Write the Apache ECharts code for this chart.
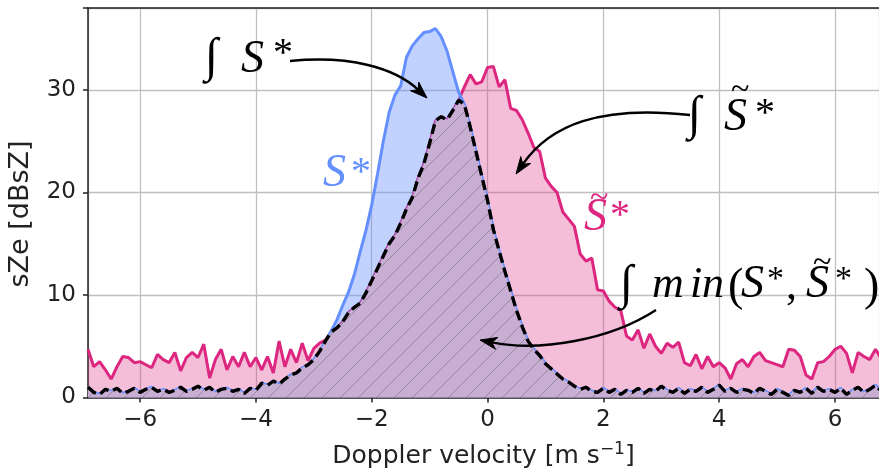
<!DOCTYPE html>
<html>
<head>
<meta charset="utf-8">
<script src="https://cdn.jsdelivr.net/npm/echarts@6/dist/echarts.min.js"></script>
<style>
html,body{margin:0;padding:0;background:#fff;}
#chart{width:879px;height:474px;}
</style>
</head>
<body>
<div id="chart"></div>
<script>
// Doppler velocity samples [m s^-1]
const velocity = [
-6.9,-6.8,-6.7,-6.6,-6.5,-6.4,-6.3,-6.2,-6.1,-6.0,
-5.9,-5.8,-5.7,-5.6,-5.5,-5.4,-5.3,-5.2,-5.1,-5.0,
-4.9,-4.8,-4.7,-4.6,-4.5,-4.4,-4.3,-4.2,-4.1,-4.0,
-3.9,-3.8,-3.7,-3.6,-3.5,-3.4,-3.3,-3.2,-3.1,-3.0,
-2.9,-2.8,-2.7,-2.6,-2.5,-2.4,-2.3,-2.2,-2.1,-2.0,
-1.9,-1.8,-1.7,-1.6,-1.5,-1.4,-1.3,-1.2,-1.1,-1.0,
-0.9,-0.8,-0.7,-0.6,-0.5,-0.4,-0.3,-0.2,-0.1,0.0,
0.1,0.2,0.3,0.4,0.5,0.6,0.7,0.8,0.9,1.0,
1.1,1.2,1.3,1.4,1.5,1.6,1.7,1.8,1.9,2.0,
2.1,2.2,2.3,2.4,2.5,2.6,2.7,2.8,2.9,3.0,
3.1,3.2,3.3,3.4,3.5,3.6,3.7,3.8,3.9,4.0,
4.1,4.2,4.3,4.4,4.5,4.6,4.7,4.8,4.9,5.0,
5.1,5.2,5.3,5.4,5.5,5.6,5.7,5.8,5.9,6.0,
6.1,6.2,6.3,6.4,6.5,6.6,6.7,6.8,6.9
];
// S* (blue) [dBsZ]
const sStar = [
1.0,0.5,0.3,0.8,0.6,0.9,0.4,0.6,0.9,0.5,
0.8,1.0,0.6,0.8,0.5,0.7,1.0,0.6,0.8,1.1,
0.7,1.0,0.5,0.8,0.9,0.6,0.8,0.4,0.9,0.7,
1.4,1.2,1.6,1.3,1.8,2.2,2.4,2.9,3.2,3.7,
4.5,5.5,6.5,7.6,9.0,10.3,12.0,14.2,16.3,18.8,
21.8,25.0,27.8,29.5,30.4,33.2,34.3,35.0,35.6,35.7,
36.0,35.2,33.8,31.8,29.8,28.6,26.4,24.0,21.6,19.2,
16.4,14.3,12.3,10.4,8.5,6.9,5.5,4.7,4.1,3.3,
2.8,2.3,1.8,1.5,1.1,0.8,1.0,0.6,0.5,0.9,
0.5,0.8,0.3,0.7,0.5,0.9,0.4,0.8,0.6,1.1,
0.7,0.5,0.9,0.4,0.8,0.6,1.0,0.5,0.8,1.2,
0.6,0.9,0.5,0.8,0.7,0.4,0.9,0.6,0.3,0.8,
0.5,0.2,0.7,0.5,0.9,0.4,1.0,0.6,0.8,0.5,
0.9,0.3,0.7,1.0,0.5,0.8,1.2,0.6,0.9
];
// S~* (pink) [dBsZ]
const sTildeStar = [
4.7,3.0,3.5,2.7,1.8,3.0,4.0,3.9,3.4,3.5,
3.2,2.9,4.2,3.7,3.4,4.4,2.6,3.9,4.4,3.9,
5.2,1.9,3.7,4.7,2.7,4.0,3.0,4.4,3.0,3.9,
2.7,4.0,2.4,5.5,3.0,4.7,3.4,5.3,3.6,4.8,
5.3,5.6,6.4,6.8,7.4,8.3,8.8,9.2,10.2,11.4,
12.6,13.8,15.0,15.8,17.0,18.4,19.5,21.4,22.8,24.8,
27.0,27.4,27.1,28.0,29.0,30.3,31.5,30.6,30.8,32.2,
32.3,30.3,31.0,28.2,28.0,27.1,25.8,24.4,24.0,21.4,
20.6,20.0,18.1,17.4,16.7,14.0,13.3,13.6,10.5,10.4,
9.4,8.8,8.5,6.0,5.6,6.6,4.8,6.2,5.0,4.3,
5.3,4.9,5.4,3.4,3.1,4.2,2.8,4.0,3.0,3.4,
2.9,1.8,3.3,3.7,3.0,4.0,4.4,3.6,3.4,3.2,
3.0,4.7,4.6,4.0,2.2,1.8,3.4,3.5,4.0,4.7,
5.0,4.3,2.4,4.4,4.0,3.7,4.7,3.8,4.2
];
const xTicks = [-6,-4,-2,0,2,4,6];
const yTicks = [0,10,20,30];

const BLUE = '#648FFF', PINK = '#DC267F';
const blueData = velocity.map((v,i)=>[v, sStar[i]]);
const pinkData = velocity.map((v,i)=>[v, sTildeStar[i]]);
const minData = velocity.map((v,i)=>[v, Math.min(sStar[i], sTildeStar[i])]);

// hatch pattern for overlap area
const hatch = document.createElement('canvas');
hatch.width = 18; hatch.height = 18;
(function(){
  const c = hatch.getContext('2d');
  c.fillStyle = '#c9aed4';
  c.fillRect(0,0,18,18);
  c.strokeStyle = 'rgba(125,115,130,0.65)';
  c.lineWidth = 1.0;
  c.beginPath();
  c.moveTo(-2,20); c.lineTo(20,-2);
  c.moveTo(-20,20); c.lineTo(2,-2);
  c.moveTo(16,20); c.lineTo(38,-2);
  c.stroke();
})();

const chart = echarts.init(document.getElementById('chart'), null, {renderer:'canvas'});

function fmtMinus(v){ return String(v).replace('-', '\u2212'); }

const FS = 23, NS = 25;
const option = {
  animation: false,
  grid: {left: 88, right: 0, top: 8, bottom: 76, containLabel: false},
  xAxis: [{
    type: 'value', min: -6.9, max: 6.76, splitNumber: 7, minInterval: 2, maxInterval: 2,
    axisLine: {show: true, onZero: false, lineStyle: {color: '#222', width: 1.5}},
    axisTick: {show: true, length: 5, lineStyle: {color: '#222', width: 1.5}},
    axisLabel: {show: true, margin: 11, fontSize: FS, color: '#222', fontFamily: 'DejaVu Sans',
      showMinLabel: false, showMaxLabel: false,
      formatter: v => xTicks.indexOf(v) >= 0 ? fmtMinus(v) : ''},
    splitLine: {show: true, lineStyle: {color: '#c0c0c0', width: 1.3}},
    name: '{a|Doppler velocity [m s}{b|\u22121}{a|]}', nameLocation: 'middle', nameGap: 44,
    nameTextStyle: {fontSize: NS, color: '#222', fontFamily: 'DejaVu Sans',
      rich: {a: {fontSize: NS, color: '#222', fontFamily: 'DejaVu Sans', lineHeight: 30},
             b: {fontSize: 17, color: '#222', fontFamily: 'DejaVu Sans', verticalAlign: 'top', lineHeight: 19}}}
  },{
    type: 'value', position: 'top', min: -6.9, max: 6.76,
    axisLine: {show: true, onZero: false, lineStyle: {color: '#222', width: 1.5}},
    axisTick: {show: false}, axisLabel: {show: false}, splitLine: {show: false}
  }],
  yAxis: {
    type: 'value', min: 0, max: 38, interval: 10,
    axisLine: {show: true, onZero: false, lineStyle: {color: '#222', width: 1.5}},
    axisTick: {show: true, length: 5, lineStyle: {color: '#222', width: 1.5}},
    axisLabel: {margin: 12, fontSize: FS, color: '#222', fontFamily: 'DejaVu Sans',
      formatter: v => yTicks.indexOf(v) >= 0 ? String(v) : ''},
    splitLine: {show: true, lineStyle: {color: '#c0c0c0', width: 1.3}}
  },
  series: [
    {type: 'line', data: pinkData, showSymbol: false, clip: true,
     lineStyle: {color: PINK, width: 3}, areaStyle: {color: PINK, opacity: 0.3}, z: 2},
    {type: 'line', data: blueData, showSymbol: false, clip: true,
     lineStyle: {color: BLUE, width: 3}, areaStyle: {color: BLUE, opacity: 0.4}, z: 3},
    {type: 'line', data: minData, showSymbol: false, clip: true,
     lineStyle: {color: '#000', width: 3.4, type: [10, 5]},
     areaStyle: {color: {image: hatch, repeat: 'repeat'}, opacity: 1}, z: 4}
  ]
};
chart.setOption(option);

// ---- annotations (LaTeX-like labels + curved arrows) ----
const SERIF = '"Liberation Serif", "DejaVu Serif", serif';
function glyph(text, x, base, size, italic, color){
  return {type: 'text', z: 100, silent: true,
    style: {text: text, x: x, y: base - 0.3375*size, align: 'left', verticalAlign: 'middle',
      font: (italic ? 'italic ' : '') + size + 'px ' + SERIF, fill: color}};
}
function arrow(p0, c1, c2, p1){
  const dx = p1[0]-c2[0], dy = p1[1]-c2[1];
  const L = Math.hypot(dx,dy); const ux = dx/L, uy = dy/L; const nx = -uy, ny = ux;
  const len = 17, hw = 6, notch = 5;
  const bx = p1[0]-ux*len, by = p1[1]-uy*len;
  const mx = p1[0]-ux*(len-notch), my = p1[1]-uy*(len-notch);
  return [
    {type: 'bezierCurve', z: 100, silent: true,
     shape: {x1: p0[0], y1: p0[1], cpx1: c1[0], cpy1: c1[1], cpx2: c2[0], cpy2: c2[1], x2: mx, y2: my},
     style: {stroke: '#000', lineWidth: 2.4, fill: null}},
    {type: 'polygon', z: 101, silent: true,
     shape: {points: [[p1[0],p1[1]],[bx+nx*hw,by+ny*hw],[mx,my],[bx-nx*hw,by-ny*hw]]},
     style: {fill: '#000', stroke: '#000', lineWidth: 1}}
  ];
}
const K = '#000';
const elements = [
  // y-axis title
  {type: 'text', z: 100, silent: true, x: 21, y: 214, rotation: Math.PI/2,
   style: {text: 'sZe [dBsZ]', x: 0, y: 0, align: 'center', verticalAlign: 'middle',
     font: '27px "DejaVu Sans"', fill: '#222'}},
  // ∫ S*
  glyph('\u222B', 205, 75, 48, false, K),
  glyph('S', 241, 75, 46, true, K),
  glyph('*', 273, 68, 40, false, K),
  // ∫ S~*
  glyph('\u222B', 688, 133, 48, false, K),
  glyph('S', 724, 133, 46, true, K),
  glyph('~', 731, 102, 34, false, K),
  glyph('*', 755, 128, 40, false, K),
  // S* (blue)
  glyph('S', 323, 189, 46, true, BLUE),
  glyph('*', 351, 187, 40, false, BLUE),
  // S~* (pink)
  glyph('S', 584, 233, 46, true, PINK),
  glyph('~', 590, 210, 34, false, PINK),
  glyph('*', 610, 230, 40, false, PINK),
  // ∫ min(S*, S~*)
  glyph('\u222B', 620, 302, 48, false, K),
  glyph('m', 652, 300, 44, true, K),
  glyph('i', 690, 300, 44, true, K),
  glyph('n', 702, 300, 44, true, K),
  glyph('(', 728, 303, 46, false, K),
  glyph('S', 741, 300, 46, true, K),
  glyph('*', 767, 292, 34, false, K),
  glyph(',', 786, 302, 44, false, K),
  glyph('S', 806, 300, 46, true, K),
  glyph('~', 813, 275, 34, false, K),
  glyph('*', 835, 292, 34, false, K),
  glyph(')', 864, 303, 46, false, K)
].concat(
  arrow([290,61],[350,55],[395,68],[427,98]),
  arrow([690,115],[600,105],[550,125],[516,174]),
  arrow([656,310],[610,340],[540,352],[480,340])
);
chart.setOption({graphic: {elements: elements}});
</script>
</body>
</html>
